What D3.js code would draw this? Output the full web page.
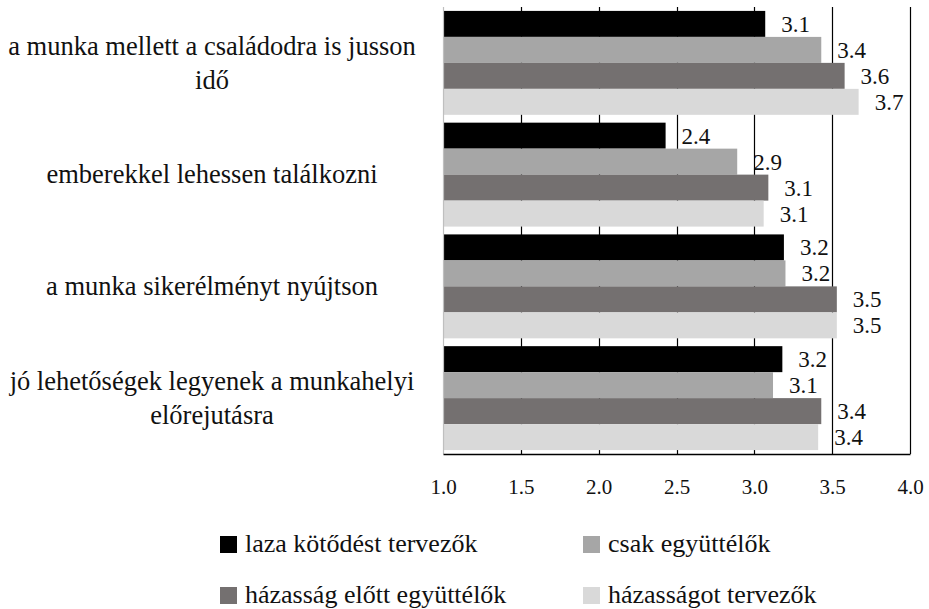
<!DOCTYPE html>
<html>
<head>
<meta charset="utf-8">
<script src="https://cdn.jsdelivr.net/npm/d3@7"></script>
<style>
  body { margin: 0; background: #fff; }
</style>
</head>
<body>
<svg id="chart"></svg>
<script>
// categories (line breaks as in the original)
const categories = [
    ["a munka mellett a családodra is jusson", "idő"],
    ["emberekkel lehessen találkozni"],
    ["a munka sikerélményt nyújtson"],
    ["jó lehetőségek legyenek a munkahelyi", "előrejutásra"]
];
const seriesNames = ["laza kötődést tervezők", "csak együttélők", "házasság előtt együttélők", "házasságot tervezők"];
const seriesColors = ["#000000", "#a6a6a6", "#747070", "#d9d9d9"];

// values per category, in series order
const laza = [3.07, 2.43, 3.19, 3.18];
const csak = [3.43, 2.89, 3.20, 3.12];
const hazElott = [3.58, 3.09, 3.53, 3.43];
const hazTerv = [3.67, 3.06, 3.53, 3.41];
const series = [laza, csak, hazElott, hazTerv];

const xTicks = [1.0, 1.5, 2.0, 2.5, 3.0, 3.5, 4.0];

const width = 929, height = 609;
const plot = { left: 443, right: 910, top: 7, bottom: 454 };
const FONT = "Liberation Serif";

const svg = d3.select("#chart")
    .attr("width", width)
    .attr("height", height);

const x = d3.scaleLinear().domain([1, 4]).range([plot.left, plot.right]);
const y = d3.scaleBand().domain(d3.range(categories.length))
    .range([plot.top, plot.bottom]).paddingInner(0.07).paddingOuter(0.035);
const ySub = d3.scaleBand().domain(d3.range(series.length)).range([0, y.bandwidth()]);

// gridlines
svg.append("g").selectAll("line")
    .data(xTicks.slice(1))
    .enter().append("line")
    .attr("x1", d => Math.round(x(d)) + 0.5)
    .attr("x2", d => Math.round(x(d)) + 0.5)
    .attr("y1", plot.top)
    .attr("y2", plot.bottom)
    .attr("stroke", "#000")
    .attr("stroke-width", 1.2);

// bars
const groups = svg.append("g").selectAll("g")
    .data(categories.map((c, i) => i))
    .enter().append("g")
    .attr("transform", i => `translate(0,${y(i)})`);

groups.selectAll("rect")
    .data(i => series.map((s, k) => ({ k: k, v: s[i] })))
    .enter().append("rect")
    .attr("x", x(1))
    .attr("y", d => ySub(d.k))
    .attr("width", d => x(d.v) - x(1))
    .attr("height", ySub.bandwidth())
    .attr("fill", d => seriesColors[d.k]);

groups.selectAll("text")
    .data(i => series.map((s, k) => ({ k: k, v: s[i] })))
    .enter().append("text")
    .attr("x", d => x(d.v) + 16)
    .attr("y", d => ySub(d.k) + ySub.bandwidth() / 2)
    .attr("dy", "0.35em")
    .attr("font-family", FONT)
    .attr("font-size", 23)
    .attr("fill", "#111")
    .text(d => d.v.toFixed(1));

// left axis line
svg.append("line")
    .attr("x1", plot.left + 0.5).attr("x2", plot.left + 0.5)
    .attr("y1", plot.top).attr("y2", plot.bottom)
    .attr("stroke", "#bfbfbf").attr("stroke-width", 1.2);

// bottom axis
const xAxis = svg.append("g")
    .attr("transform", `translate(0,${plot.bottom})`)
    .call(d3.axisBottom(x).tickValues(xTicks).tickFormat(d3.format(".1f")).tickSize(0).tickPadding(25));
xAxis.select(".domain").attr("stroke", "#000").attr("stroke-width", 1.5);
xAxis.selectAll("text").attr("font-size", 21).attr("font-family", FONT).attr("fill", "#111");

// category labels
const labelCenter = 212, lineGap = 34;
categories.forEach((lines, i) => {
    const cy = y(i) + y.bandwidth() / 2;
    const t = svg.append("text")
        .attr("text-anchor", "middle")
        .attr("font-family", FONT)
        .attr("font-size", 26.5)
        .attr("fill", "#111");
    lines.forEach((ln, j) => {
        t.append("tspan")
            .attr("x", labelCenter)
            .attr("y", cy + (j - (lines.length - 1) / 2) * lineGap)
            .attr("dy", "0.33em")
            .text(ln);
    });
});

// legend
const legendPos = [[220, 552], [583, 552], [220, 603], [583, 603]];
const legend = svg.append("g").selectAll("g")
    .data(seriesNames)
    .enter().append("g")
    .attr("transform", (d, i) => `translate(${legendPos[i][0]},${legendPos[i][1]})`);
legend.append("rect")
    .attr("x", 0).attr("y", -16)
    .attr("width", 17).attr("height", 17)
    .attr("fill", (d, i) => seriesColors[i]);
legend.append("text")
    .attr("x", 25)
    .attr("font-family", FONT)
    .attr("font-size", 26)
    .attr("fill", "#111")
    .text(d => d);
</script>
</body>
</html>
